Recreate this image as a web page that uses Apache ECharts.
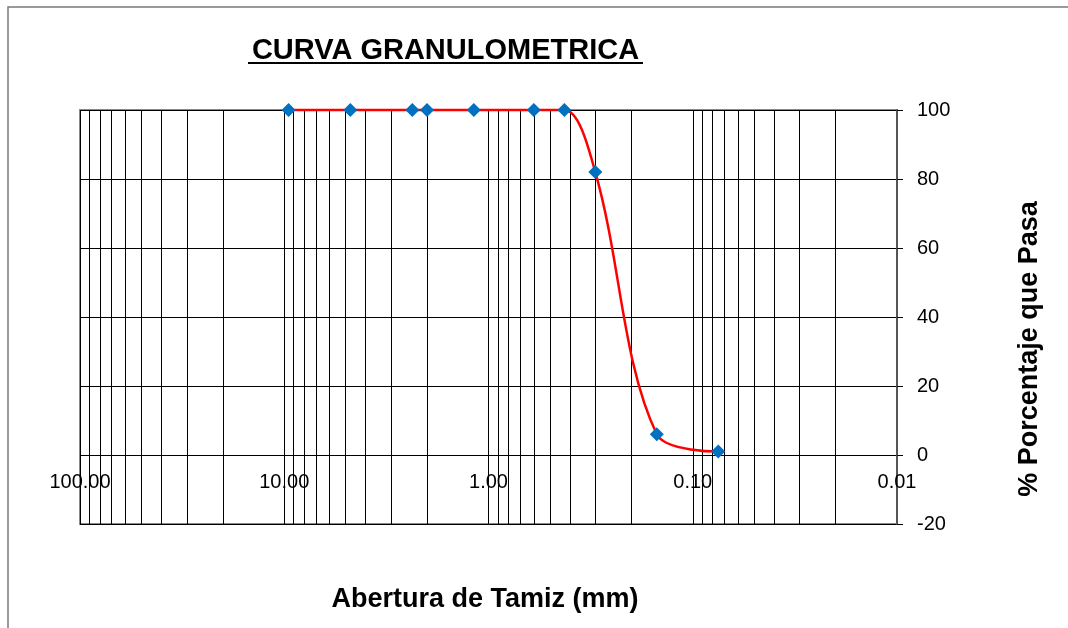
<!DOCTYPE html>
<html>
<head>
<meta charset="utf-8">
<script src="https://cdn.jsdelivr.net/npm/echarts@6/dist/echarts.min.js"></script>
<style>html,body{margin:0;padding:0;background:#fff;}#c{width:1068px;height:628px;}</style>
</head>
<body>
<div id="c"></div>
<script>
// Sieve openings (mm) and % passing
const aberturas = [9.525, 4.75, 2.36, 2.00, 1.18, 0.60, 0.425, 0.30, 0.15, 0.075];
const pasa = [100, 100, 100, 100, 100, 100, 100, 82, 6, 1];
const xTicks = [100, 10, 1, 0.1, 0.01];
const yTicks = [-20, 0, 20, 40, 60, 80, 100];
const minorMultipliers = [2, 3, 4, 5, 6, 7, 8, 9];
const minorDecades = [0.01, 0.1, 1, 10];

const minorLines = [];
minorDecades.forEach(d => minorMultipliers.forEach(m => minorLines.push({ xAxis: +(d * m).toPrecision(3) })));

const font = '"Liberation Sans", Arial, sans-serif';
const chart = echarts.init(document.getElementById('c'), null, { renderer: 'canvas' });
const option = {
  backgroundColor: '#fff',
  animation: false,
  grid: { left: 80, right: 171, top: 110, bottom: 104, show: true, borderColor: '#8a8a8a', borderWidth: 2, backgroundColor: 'transparent' },
  xAxis: {
    type: 'log', logBase: 10, min: xTicks[xTicks.length - 1], max: xTicks[0], inverse: true, interval: 1,
    axisLine: { show: false },
    axisTick: { show: false },
    axisLabel: { fontFamily: font, fontSize: 20, color: '#000', margin: -52, formatter: v => Number(v).toFixed(2) },
    splitLine: { show: true, lineStyle: { color: '#000', width: 1 } }
  },
  yAxis: {
    type: 'value', position: 'right', min: yTicks[0], max: yTicks[yTicks.length - 1], interval: 20,
    axisLine: { show: true, lineStyle: { color: '#555', width: 2 } },
    axisTick: { show: true, length: 6, lineStyle: { color: '#000' } },
    axisLabel: { fontFamily: font, fontSize: 20, color: '#000', margin: 20 },
    splitLine: { show: true, lineStyle: { color: '#000', width: 1 } }
  },
  graphic: [
    { type: 'rect', shape: { x: 8, y: 7, width: 1080, height: 640 }, style: { fill: 'none', stroke: '#7a7a7a', lineWidth: 1.5 }, z: -1, silent: true },
    { type: 'text', x: 445.5, y: 51, style: { text: 'CURVA GRANULOMETRICA', font: 'bold 29px ' + font, fill: '#000', textAlign: 'center', textVerticalAlign: 'middle' } },
    { type: 'rect', shape: { x: 248, y: 62, width: 395, height: 2 }, style: { fill: '#000' } },
    { type: 'text', x: 485, y: 600, style: { text: 'Abertura de Tamiz (mm)', font: 'bold 27px ' + font, fill: '#000', textAlign: 'center', textVerticalAlign: 'middle' } },
    { type: 'text', x: 1030, y: 349, rotation: Math.PI / 2, style: { text: '% Porcentaje que Pasa', font: 'bold 27px ' + font, fill: '#000', textAlign: 'center', textVerticalAlign: 'middle' } }
  ],
  series: [{
    type: 'line',
    data: aberturas.map((a, i) => [a, pasa[i]]),
    smooth: 0.35,
    symbol: 'diamond',
    symbolSize: 14,
    itemStyle: { color: '#0070C0' },
    lineStyle: { color: '#FF0000', width: 2.5 },
    clip: false,
    z: 5,
    markLine: {
      silent: true, symbol: ['none', 'none'], label: { show: false },
      lineStyle: { color: '#000', width: 1, type: 'solid' },
      emphasis: { disabled: true },
      data: minorLines,
      z: 1
    }
  }]
};
chart.setOption(option);
</script>
</body>
</html>
